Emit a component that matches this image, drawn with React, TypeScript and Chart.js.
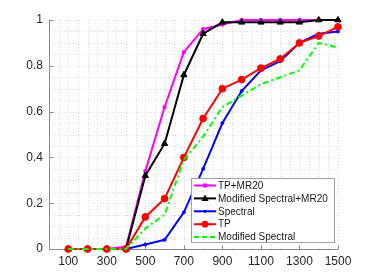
import React, { useEffect, useRef } from "react";
import { Chart, registerables } from "chart.js";

Chart.register(...registerables);

const xValues = [100, 200, 300, 400, 500, 600, 700, 800, 900, 1000, 1100, 1200, 1300, 1400, 1500];
const xTickLabels = [100, 300, 500, 700, 900, 1100, 1300, 1500];
const yTickLabels = [0, 0.2, 0.4, 0.6, 0.8, 1];

const tpMr20 = [0, 0, 0, 0.01, 0.34, 0.62, 0.86, 0.96, 0.98, 1, 1, 1, 1, 1, 1];
const modSpecMr20 = [0, 0, 0, 0, 0.32, 0.46, 0.76, 0.94, 0.99, 0.99, 0.99, 0.99, 0.99, 1, 1];
const spectral = [0, 0, 0, 0, 0.02, 0.04, 0.16, 0.35, 0.55, 0.69, 0.78, 0.82, 0.9, 0.94, 0.95];
const tp = [0, 0, 0, 0, 0.14, 0.22, 0.4, 0.57, 0.7, 0.74, 0.79, 0.83, 0.9, 0.93, 0.97];
const modSpec = [0, 0, 0, 0, 0.09, 0.15, 0.39, 0.49, 0.62, 0.67, 0.72, 0.75, 0.78, 0.9, 0.88];

const seriesLabels = ["TP+MR20", "Modified Spectral+MR20", "Spectral", "TP", "Modified Spectral"];

const FONT = "'Liberation Sans', Arial, Helvetica, sans-serif";
const AXIS_COLOR = "#8a8a8a";
const GRID_COLOR = "#d8d8d8";

type Style = { color: string; pointStyle: any; radius: number; dash: number[] };
const styles: Style[] = [
  { color: "#ff00ff", pointStyle: "rect", radius: 2, dash: [] },
  { color: "#000000", pointStyle: "triangle", radius: 3.6, dash: [] },
  { color: "#0000ff", pointStyle: "circle", radius: 1.5, dash: [] },
  { color: "#ff0000", pointStyle: "circle", radius: 3.4, dash: [] },
  { color: "#00ff00", pointStyle: false, radius: 0, dash: [6, 3, 2, 3] },
];

const seriesValues = [tpMr20, modSpecMr20, spectral, tp, modSpec];

function drawMarker(ctx: CanvasRenderingContext2D, s: Style, x: number, y: number) {
  const r = s.radius;
  ctx.beginPath();
  if (s.pointStyle === "rect") {
    ctx.rect(x - r, y - r, 2 * r, 2 * r);
  } else if (s.pointStyle === "triangle") {
    ctx.moveTo(x, y - r * 1.1);
    ctx.lineTo(x + r, y + r * 0.7);
    ctx.lineTo(x - r, y + r * 0.7);
    ctx.closePath();
  } else {
    ctx.arc(x, y, r, 0, Math.PI * 2);
  }
  ctx.fill();
}

const decorPlugin = {
  id: "decor",
  beforeDatasetsDraw(chart: any) {
    const { ctx, chartArea } = chart;
    const xs = chart.scales.x;
    const ys = chart.scales.y;
    ctx.save();
    ctx.strokeStyle = GRID_COLOR;
    ctx.lineWidth = 1;
    ctx.setLineDash([1, 2]);
    for (let v = 50; v <= 1500; v += 50) {
      const px = Math.round(xs.getPixelForValue(v)) + 0.5;
      ctx.beginPath();
      ctx.moveTo(px, chartArea.top);
      ctx.lineTo(px, chartArea.bottom);
      ctx.stroke();
    }
    for (let i = 1; i <= 20; i++) {
      const py = Math.round(ys.getPixelForValue(i * 0.05)) + 0.5;
      ctx.beginPath();
      ctx.moveTo(chartArea.left, py);
      ctx.lineTo(chartArea.right, py);
      ctx.stroke();
    }
    ctx.setLineDash([]);
    ctx.strokeStyle = AXIS_COLOR;
    const left = Math.round(chartArea.left) + 0.5;
    const bottom = Math.round(chartArea.bottom) + 0.5;
    ctx.beginPath();
    ctx.moveTo(left, chartArea.top);
    ctx.lineTo(left, bottom);
    ctx.lineTo(chartArea.right, bottom);
    ctx.stroke();
    for (const v of yTickLabels) {
      const py = Math.round(ys.getPixelForValue(v)) + 0.5;
      ctx.beginPath();
      ctx.moveTo(left, py);
      ctx.lineTo(left + 4, py);
      ctx.stroke();
    }
    for (const v of xTickLabels) {
      const px = Math.round(xs.getPixelForValue(v)) + 0.5;
      ctx.beginPath();
      ctx.moveTo(px, bottom);
      ctx.lineTo(px, bottom - 4);
      ctx.stroke();
    }
    ctx.restore();
  },
  afterDraw(chart: any) {
    const { ctx } = chart;
    ctx.save();
    const bx = 191.5, by = 178.5, bw = 143, bh = 64;
    ctx.fillStyle = "#ffffff";
    ctx.fillRect(bx, by, bw, bh);
    ctx.strokeStyle = "#a0a0a0";
    ctx.lineWidth = 1;
    ctx.strokeRect(bx, by, bw, bh);
    ctx.font = "10px " + FONT;
    ctx.textBaseline = "middle";
    ctx.textAlign = "left";
    for (let i = 0; i < seriesLabels.length; i++) {
      const s = styles[i];
      const cy = 185.5 + i * 12.9;
      ctx.strokeStyle = s.color;
      ctx.lineWidth = 2;
      ctx.setLineDash(s.dash.length ? [5, 3] : []);
      ctx.beginPath();
      ctx.moveTo(194, cy);
      ctx.lineTo(216, cy);
      ctx.stroke();
      ctx.setLineDash([]);
      if (s.pointStyle) {
        ctx.fillStyle = s.color;
        drawMarker(ctx, s, 205, cy);
      }
      ctx.fillStyle = "#1a1a1a";
      ctx.fillText(seriesLabels[i], 218, cy + 0.5);
    }
    ctx.restore();
  },
};

export default function App() {
  const ref = useRef<HTMLCanvasElement | null>(null);
  useEffect(() => {
    document.body.style.margin = "0";
    const canvas = ref.current!;
    const datasets = seriesValues.map((vals, i) => ({
      label: seriesLabels[i],
      data: xValues.map((x, j) => ({ x, y: vals[j] })),
      borderColor: styles[i].color,
      backgroundColor: styles[i].color,
      borderWidth: 2,
      borderDash: styles[i].dash,
      pointStyle: styles[i].pointStyle,
      pointRadius: styles[i].radius,
      pointBorderWidth: 1,
      pointBackgroundColor: styles[i].color,
      pointBorderColor: styles[i].color,
      tension: 0,
      clip: false as any,
      order: seriesValues.length - i,
    }));
    const chart = new Chart(canvas, {
      type: "line",
      data: { datasets },
      plugins: [decorPlugin],
      options: {
        animation: false,
        responsive: false,
        events: [],
        layout: { padding: { top: 20, right: 36, left: 0, bottom: 0 } },
        plugins: { legend: { display: false }, tooltip: { enabled: false } },
        scales: {
          x: {
            type: "linear",
            min: 0,
            max: 1500,
            grid: { display: false, drawTicks: false },
            border: { display: false },
            afterBuildTicks: (scale: any) => {
              scale.ticks = xTickLabels.map((v) => ({ value: v }));
            },
            afterFit: (scale: any) => {
              scale.height = 31;
            },
            ticks: {
              padding: 5,
              color: "#262626",
              font: { family: FONT, size: 12 },
              maxRotation: 0,
              autoSkip: false,
              callback: (v: any) => String(v),
            },
          },
          y: {
            type: "linear",
            min: 0,
            max: 1,
            grid: { display: false, drawTicks: false },
            border: { display: false },
            afterBuildTicks: (scale: any) => {
              scale.ticks = yTickLabels.map((v) => ({ value: v }));
            },
            afterFit: (scale: any) => {
              scale.width = 49;
            },
            ticks: {
              padding: 6,
              color: "#262626",
              font: { family: FONT, size: 12 },
              callback: (v: any) => String(Number(Number(v).toFixed(1))),
            },
          },
        },
      } as any,
    });
    return () => chart.destroy();
  }, []);
  return (
    <div style={{ width: 374, height: 280, background: "#fff" }}>
      <canvas ref={ref} width={374} height={280} style={{ display: "block" }} />
    </div>
  );
}
